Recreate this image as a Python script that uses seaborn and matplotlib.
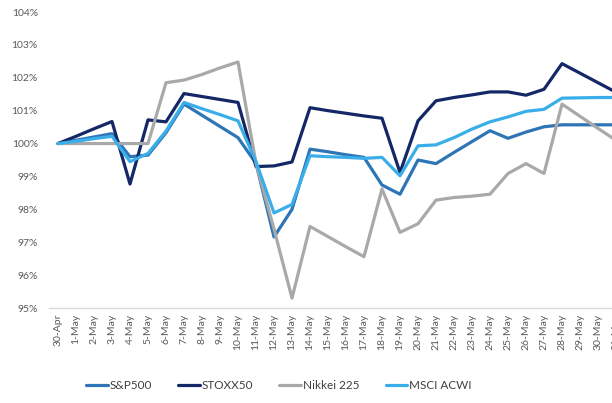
import matplotlib
matplotlib.use('Agg')
import matplotlib.pyplot as plt
import seaborn as sns
import pandas as pd
from matplotlib.ticker import FuncFormatter

dates = ['30-Apr', '1-May', '2-May', '3-May', '4-May', '5-May', '6-May', '7-May',
         '8-May', '9-May', '10-May', '11-May', '12-May', '13-May', '14-May', '15-May',
         '16-May', '17-May', '18-May', '19-May', '20-May', '21-May', '22-May', '23-May',
         '24-May', '25-May', '26-May', '27-May', '28-May', '29-May', '30-May', '31-May']

sp500 = [100, 100.1, 100.2, 100.3, 99.6, 99.65, 100.33, 101.2, 100.86, 100.52, 100.18,
         99.4, 97.16, 98.0, 99.83, 99.75, 99.66, 99.58, 98.74, 98.46, 99.5, 99.39,
         99.73, 100.06, 100.39, 100.16, 100.35, 100.51, 100.57, 100.57, 100.57, 100.57]
stoxx50 = [100, 100.22, 100.45, 100.67, 98.77, 100.72, 100.66, 101.52, 101.43, 101.34, 101.25,
           99.3, 99.32, 99.44, 101.09, 101.0, 100.92, 100.84, 100.77, 99.12, 100.69, 101.3,
           101.4, 101.48, 101.57, 101.57, 101.47, 101.65, 102.43, 102.14, 101.85, 101.56]
nikkei = [100, 100, 100, 100, 100, 100, 101.85, 101.93, 102.1, 102.3, 102.48,
          99.4, 97.4, 95.3, 97.48, 97.17, 96.86, 96.56, 98.62, 97.3, 97.56, 98.28,
          98.36, 98.4, 98.46, 99.09, 99.39, 99.09, 101.2, 100.83, 100.46, 100.1]
msci_acwi = [100, 100.07, 100.15, 100.22, 99.45, 99.7, 100.38, 101.25, 101.06, 100.88, 100.69,
             99.45, 97.89, 98.15, 99.63, 99.6, 99.58, 99.55, 99.58, 99.02, 99.93, 99.96,
             100.18, 100.44, 100.66, 100.81, 100.98, 101.04, 101.38, 101.39, 101.4, 101.4]

series = {'S&P500': sp500, 'STOXX50': stoxx50, 'Nikkei 225': nikkei, 'MSCI ACWI': msci_acwi}
colors = {'S&P500': '#2E75B6', 'STOXX50': '#142766', 'Nikkei 225': '#A9A9A9', 'MSCI ACWI': '#3AAEE8'}

rows = []
for name, vals in series.items():
    for i, v in enumerate(vals):
        rows.append((i, v, name))
df = pd.DataFrame(rows, columns=['day', 'value', 'index'])

sns.set_style('white')
plt.rcParams['font.family'] = ['Lato', 'DejaVu Sans']

fig = plt.figure(figsize=(6.12, 4.03), dpi=100)
ax = fig.add_axes([49 / 612, 95 / 403, 576 / 612, 296 / 403])

sns.lineplot(data=df, x='day', y='value', hue='index', palette=colors,
             hue_order=list(series.keys()), linewidth=2.3, ax=ax, legend=False)

ax.set_xlim(-0.5, 31.5)
ax.set_ylim(95, 104)
ax.set_yticks(range(95, 105))
ax.yaxis.set_major_formatter(FuncFormatter(lambda v, p: f'{int(round(v))}%'))
ax.set_xticks(range(len(dates)))
ax.set_xticklabels(dates, rotation=90)
ax.tick_params(axis='both', length=0, labelsize=7.5, colors='#595959')
ax.tick_params(axis='x', pad=4)
ax.tick_params(axis='y', pad=8)
ax.set_xlabel('')
ax.set_ylabel('')

sns.despine(ax=ax, left=True, top=True, right=True)
ax.spines['bottom'].set_color('#D9D9D9')
ax.spines['bottom'].set_linewidth(1)

handles = [plt.Line2D([], [], color=colors[n], linewidth=2.3) for n in series]
fig.legend(handles, list(series.keys()), loc='center', bbox_to_anchor=(0.456, 0.043),
           ncol=4, frameon=False, fontsize=8.5, handlelength=1.85, handletextpad=0.15,
           columnspacing=2.2, labelcolor='#404040')

fig.savefig('out.png', dpi=100)
